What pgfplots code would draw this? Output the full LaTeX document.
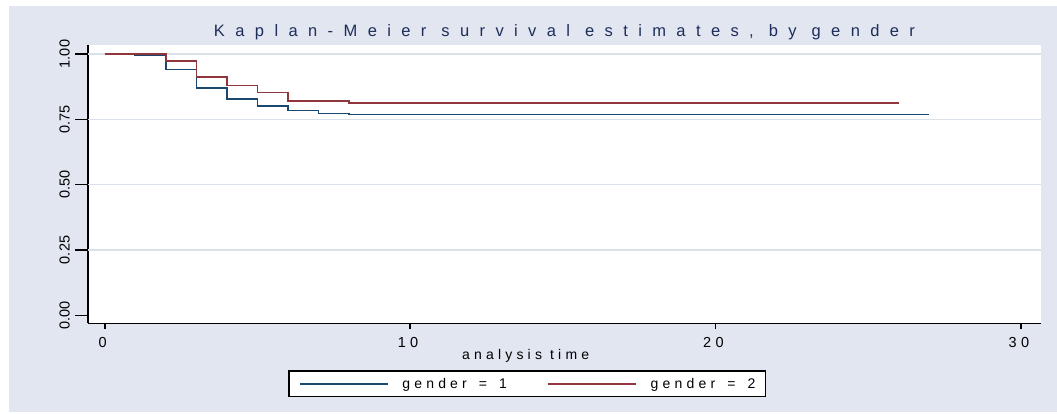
\documentclass[border=0pt]{standalone}
\usepackage{fontspec}
\setmainfont{Liberation Sans}
\newfontfamily\ls[LetterSpace=30]{Liberation Sans}
\newfontfamily\tf[LetterSpace=63]{Liberation Sans}
\usepackage{pgfplots}
\pgfplotsset{compat=1.18}
\definecolor{bgc}{RGB}{225,230,240}
\definecolor{gridc}{RGB}{218,225,233}
\definecolor{navyc}{RGB}{26,71,111}
\definecolor{maroonc}{RGB}{144,53,59}
\definecolor{titlec}{RGB}{30,45,90}
\begin{document}
\begin{tikzpicture}
\useasboundingbox (0,0) rectangle (1057pt,413pt);
\fill[white] (0,0) rectangle (1057pt,413pt);
\fill[bgc] (9pt,1pt) rectangle (1057pt,407pt);
\begin{axis}[
  at={(88pt,89.7pt)}, anchor=south west,
  scale only axis, width=953pt, height=278.3pt,
  xmin=-0.547, xmax=30.66, ymin=-0.0306, ymax=1.0344,
  axis background/.style={fill=white},
  axis x line*=bottom, axis y line*=left,
  x axis line style={line width=1.3pt, black, -},
  y axis line style={line width=1.8pt, black, -},
  xtick=\empty,
  ytick={0,0.25,0.5,0.75,1},
  yticklabels={0.00,0.25,0.50,0.75,1.00},
  extra y ticks={0.25,0.5,0.75,1},
  extra y tick labels={},
  extra y tick style={grid=major},
  major grid style={color=gridc, line width=1.2pt},
  tick align=outside,
  major tick length=13pt,
  tick style={line width=1.5pt, black},
  yticklabel style={rotate=90, anchor=south, inner sep=0pt, font=\fontsize{14.5}{14.5}\selectfont, yshift=5pt},
  title={Kaplan-Meier survival estimates, by gender},
  title style={at={(axis description cs:0.5,1.0288)}, anchor=base, yshift=-6pt, font=\tf\fontsize{16.5}{16.5}\selectfont, text=titlec, inner sep=0pt},
  legend columns=2,
  legend style={at={(axis description cs:0.4607,-0.2176)}, anchor=center, draw=black, line width=1.6pt, fill=white,
    font=\ls\fontsize{14}{14}\selectfont, inner xsep=10pt, inner ysep=7pt,
    nodes={inner sep=0pt},
    /tikz/every odd column/.append style={column sep=14pt},
    /tikz/every even column/.append style={column sep=40pt}},
  legend image code/.code={\draw[#1] (0pt,0pt) -- (88pt,0pt);},
]
\addplot[const plot, navyc, line width=1.6pt] coordinates {
 (0,1) (1,0.995) (2,0.941) (3,0.869) (4,0.827) (5,0.802) (6,0.783) (7,0.773) (8,0.768) (27,0.768)};
\addlegendentry{gender\hspace{4pt} =\hspace{4pt} 1}
\addplot[const plot, maroonc, line width=1.6pt] coordinates {
 (0,1) (2,0.974) (3,0.913) (4,0.880) (5,0.852) (6,0.821) (8,0.813) (26,0.813)};
\addlegendentry{gender\hspace{4pt} =\hspace{4pt} 2}
\end{axis}
\begin{axis}[
  at={(88pt,89.7pt)}, anchor=south west,
  scale only axis, width=953pt, height=278.3pt,
  xmin=-0.547, xmax=30.66, ymin=-0.0306, ymax=1.0344,
  axis x line*=bottom, axis y line=none,
  x axis line style={line width=1.3pt, black, -},
  xtick={0,10,20,30}, xticklabels={0,10,20,30},
  tick align=outside, major tick length=6pt,
  tick style={line width=1.8pt, black},
  xticklabel style={anchor=north, inner sep=0pt, font=\ls\fontsize{14.5}{14.5}\selectfont, yshift=-8pt, xshift=-2pt},
  xlabel={analysis time},
  xlabel style={at={(axis description cs:0.4592,-0.1283)}, anchor=base, font=\ls\fontsize{14}{14}\selectfont, inner sep=0pt},
]
\end{axis}
\end{tikzpicture}
\end{document}
